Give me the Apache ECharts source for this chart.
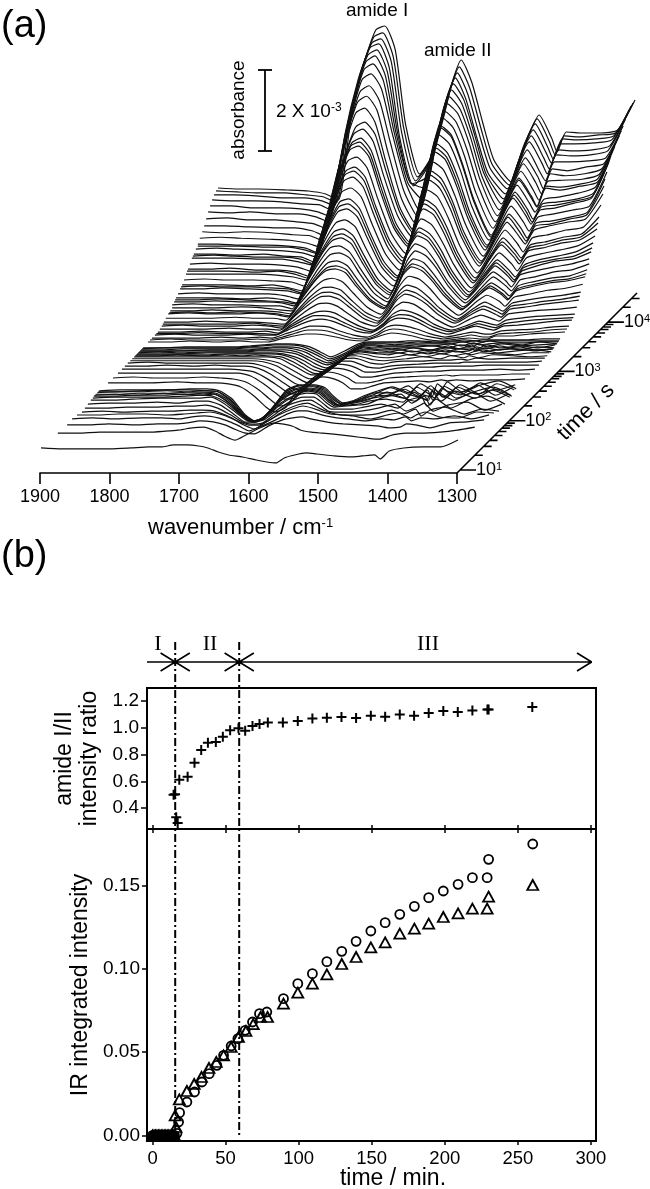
<!DOCTYPE html>
<html>
<head>
<meta charset="utf-8">
<style>html,body{margin:0;padding:0;background:#fff}#chart{width:650px;height:1189px}</style>
<script src="https://cdn.jsdelivr.net/npm/echarts@6/dist/echarts.min.js"></script>
</head>
<body>
<div id="chart"></div>
<script>
// (a) spectra: absorbance in units of 1/40.5 of 1e-3, relative to each trace's own baseline
var wavenumbers = [1900,1870,1840,1800,1770,1745,1727,1709,1690,1673,1660,1645,1630,1610,1590,1575,1562,1550,1535,1519,1503,1478,1454,1438,1420,1412,1399,1378,1350,1325,1300];
var logTimes = [4.55,4.51,4.47,4.43,4.39,4.35,4.31,4.27,4.23,4.18,4.14,4.14,4.10,4.06,4.04,4.02,3.98,3.94,3.92,3.90,3.86,3.82,3.80,3.78,3.74,3.70,3.68,3.66,3.62,3.62,3.58,3.56,3.54,3.49,3.45,3.43,3.41,3.37,3.33,3.30,3.27,3.21,3.17,3.13,
  3.03,3.01,2.99,2.97,2.95,2.93,2.91,2.89,2.87,2.85,2.81,2.77,2.72,2.66,2.60,2.52,2.42,2.32,
  2.14,2.12,2.10,2.07,2.05,2.03,2.01,1.97,1.91,1.85,1.79,1.69,1.59,1.49,1.30,0.96];
var baselines = [107,106,104,101,97,93,88,83,79,75,71,69,68,65,64,63,59,56,55,53,49,46,45,44,41,39,38,37,36,33,32,31,31,29,27,26,25,24,23,23,23,23,23,23,
  22,22,22,22,22,22,22,22,22,22,22,22,22,22,22,22,22,22,
  23,23,23,23,23,23,22,22,21,20,19,21,22,21,22,24];
var spectra = [
  [0,-1,-1,-2,-3,-6,-12,68,125,158,162,138,63,14,35,72,108,128,106,65,28,6,51,73,50,36,56,55,55,58,88],
  [0,-1,-2,-2,-4,-6,-12,66,122,154,158,134,63,14,33,69,104,124,103,63,27,6,50,72,49,36,55,54,56,58,88],
  [0,0,-1,-3,-3,-6,-11,65,120,152,156,133,62,14,33,68,102,122,101,62,27,6,50,71,48,36,56,55,56,59,89],
  [0,-1,-1,-2,-4,-5,-11,65,120,152,156,132,62,14,33,68,103,122,101,62,27,6,49,70,48,37,56,56,57,60,90],
  [0,0,-2,-2,-3,-6,-11,60,116,151,156,134,72,22,28,62,102,122,106,70,32,7,49,70,48,37,56,55,56,60,91],
  [0,-1,0,-2,-2,-5,-10,56,113,150,156,136,80,30,24,58,102,122,108,75,38,8,49,70,49,38,57,56,57,61,92],
  [0,1,-1,-1,-3,-5,-10,52,110,149,155,138,88,36,20,55,101,122,110,80,42,9,48,69,47,38,57,57,58,61,93],
  [0,0,-1,-2,-2,-5,-10,49,106,146,152,137,94,43,15,51,100,122,112,83,46,10,46,68,49,37,57,55,59,62,95],
  [0,-1,0,-1,-3,-4,-9,47,102,140,146,131,91,41,15,50,98,120,110,82,46,10,46,68,49,38,58,56,58,63,96],
  [0,1,0,-1,-2,-5,-9,45,99,136,142,128,88,40,15,50,98,120,110,82,46,10,46,67,48,38,57,58,59,64,98],
  [0,0,-1,-1,-2,-4,-9,44,95,131,136,122,84,38,14,50,97,118,109,80,45,9,45,66,48,38,58,57,60,65,100],
  [0,0,0,-1,-1,-4,-8,40,87,119,124,112,77,35,13,50,97,118,109,80,45,9,45,66,48,39,58,56,60,64,100],
  [0,1,0,-1,-2,-4,-8,38,84,115,120,108,74,34,13,48,93,114,105,78,43,9,44,64,46,37,50,52,56,62,100],
  [0,0,-1,0,-2,-3,-8,37,81,111,116,104,72,32,12,46,90,110,101,75,42,9,42,62,45,35,50,52,55,61,98],
  [0,1,0,-1,-1,-3,-8,36,79,110,114,102,70,31,12,45,88,108,99,73,41,9,41,61,44,34,49,51,55,60,97],
  [0,0,0,-1,-1,-4,-7,36,78,108,112,101,69,31,12,45,87,106,98,72,40,8,41,60,43,34,48,50,55,60,96],
  [0,1,0,0,-1,-3,-7,34,75,103,107,96,66,30,11,43,84,102,94,69,39,8,39,58,42,33,47,50,54,58,92],
  [0,0,1,-1,-1,-3,-7,33,71,98,102,92,63,29,11,41,80,98,90,67,37,8,37,55,40,31,46,48,52,57,90],
  [0,0,0,-1,0,-3,-7,32,70,96,100,90,62,28,10,40,79,96,88,66,36,8,36,54,38,30,45,47,52,56,85],
  [0,0,0,0,-1,-3,-6,31,68,93,97,87,60,27,10,39,77,94,86,64,36,8,35,52,37,30,44,48,52,55,80],
  [0,1,0,0,-1,-2,-6,29,64,88,92,83,57,26,10,38,74,90,83,61,34,7,34,50,36,28,42,45,50,53,75],
  [0,0,0,-1,0,-3,-6,28,60,83,86,77,53,24,9,36,70,85,78,58,32,7,32,47,34,27,40,43,48,51,68],
  [0,1,0,0,-1,-2,-6,27,58,80,83,75,52,23,9,35,68,83,76,56,31,6,31,45,33,26,39,42,47,50,64],
  [0,0,1,0,-1,-2,-5,26,56,77,80,72,50,22,8,34,66,80,74,54,30,6,30,44,32,25,38,41,46,49,60],
  [0,1,0,0,0,-2,-5,24,52,71,74,67,46,21,8,32,62,75,69,51,29,6,28,41,30,23,36,40,44,48,58],
  [0,0,0,-1,0,-2,-5,22,48,66,69,62,43,19,7,29,57,70,64,48,27,6,26,38,27,21,33,38,42,46,55],
  [0,0,1,0,-1,-2,-4,21,46,63,66,60,41,18,7,28,55,68,62,46,26,5,25,37,26,20,32,37,41,44,52],
  [0,0,1,0,0,-1,-4,20,45,61,64,58,40,18,7,28,54,66,61,45,25,5,24,36,26,20,31,36,41,43,50],
  [0,1,0,0,-1,-1,-4,19,41,57,59,53,37,17,6,26,50,61,56,41,23,5,22,33,24,18,30,34,38,41,46],
  [0,0,0,1,0,-2,-3,18,39,53,55,50,34,15,6,24,47,57,52,39,22,5,21,31,22,17,28,31,36,38,44],
  [0,0,1,0,0,-1,-3,16,35,48,50,45,31,14,5,22,43,52,48,35,20,4,19,28,20,15,25,29,33,35,41],
  [0,1,0,1,0,-1,-3,15,33,45,47,43,29,13,5,21,41,49,45,33,19,4,18,27,19,14,24,28,32,34,39],
  [0,1,0,0,1,-1,-3,14,32,43,45,41,28,13,5,20,39,47,43,32,18,4,18,26,19,14,23,27,31,33,37],
  [0,0,0,1,0,0,-2,13,28,38,40,36,25,11,4,18,34,42,39,29,16,3,16,23,17,12,21,24,28,30,34],
  [0,0,1,0,0,-1,-2,11,25,34,35,32,22,10,4,16,30,37,34,25,14,3,14,20,14,11,19,22,25,27,30],
  [0,0,0,0,1,-1,-2,10,23,31,32,29,20,9,3,14,28,34,31,23,13,3,13,18,13,10,18,20,23,25,28],
  [0,1,0,0,1,0,-2,10,21,29,30,27,19,8,3,13,26,32,29,22,12,3,12,17,12,9,17,19,22,24,26],
  [0,0,0,1,0,0,-1,8,18,25,26,23,16,7,3,11,22,27,25,18,10,2,10,14,10,8,15,17,19,20,22],
  [0,0,1,0,0,1,-1,7,15,20,21,19,13,6,2,9,18,22,20,15,8,2,7,11,8,7,12,14,16,17,18],
  [0,0,1,0,0,0,-1,6,13,18,18,16,11,5,2,8,16,19,18,13,7,2,6,10,7,6,10,12,14,15,16],
  [0,1,0,0,1,0,0,5,11,15,16,14,10,4,2,7,14,17,16,12,6,1,6,9,6,5,9,10,12,14,15],
  [0,0,0,1,0,1,0,4,8,12,12,11,7,3,1,5,11,13,12,9,5,1,4,6,4,4,7,8,9,11,12],
  [0,1,0,0,0,1,0,3,7,10,10,9,6,2,1,4,9,11,10,7,4,1,3,5,3,3,6,7,8,10,11],
  [0,0,1,0,1,0,0,3,6,8,8,7,5,2,1,4,7,9,8,6,3,1,3,4,3,3,6,6,8,9,10],
  // 10^3 s group
  [0,0,1,1,1,2,3,4,4,3,1,-4,-9,-3,4,6,6,6,6,7,7,6,7,8,7,8,8,8,8,9,9],
  [0,1,1,1,1,2,3,4,4,3,0,-5,-10,-5,3,6,6,6,6,6,7,6,7,7,8,7,8,8,8,8,8],
  [0,0,1,1,1,2,2,3,3,2,-1,-6,-11,-6,2,6,6,6,5,6,6,6,6,8,6,7,9,7,7,8,8],
  [0,0,0,1,1,1,2,3,3,1,-2,-8,-12,-7,2,6,6,5,5,5,6,5,7,5,8,6,7,8,6,9,7],
  [0,0,1,1,1,1,2,2,2,0,-4,-9,-13,-8,2,6,6,5,5,5,5,6,4,7,5,8,5,8,6,7,8],
  [0,1,0,1,1,1,2,2,1,-1,-5,-11,-15,-9,2,6,5,5,4,5,5,3,7,4,8,4,8,5,7,5,8],
  [0,0,0,1,1,1,1,1,0,-3,-7,-13,-16,-9,2,6,5,4,4,4,6,3,6,5,4,7,5,8,4,7,6],
  [0,0,0,0,1,1,1,1,0,-4,-9,-15,-17,-9,2,5,5,4,3,5,3,5,3,6,7,4,7,5,8,5,6],
  [0,0,1,0,1,0,1,0,-1,-6,-11,-17,-18,-9,2,5,4,3,3,3,5,2,6,4,5,7,4,6,7,5,7],
  [0,0,0,0,0,0,0,0,-2,-8,-13,-18,-18,-8,3,5,4,3,2,4,2,5,3,6,3,5,7,4,6,7,5],
  [0,0,0,0,0,0,0,-1,-4,-10,-15,-20,-18,-7,3,5,4,2,1,2,4,2,5,3,5,4,6,5,4,6,6],
  [0,0,0,0,0,0,0,-1,-5,-12,-17,-22,-18,-6,4,5,3,1,0,1,2,4,2,5,3,5,3,6,5,4,5],
  [0,1,0,0,0,0,0,-2,-7,-14,-20,-23,-17,-5,4,5,3,0,-1,1,2,2,3,3,4,3,5,4,5,5,5],
  [0,0,1,0,1,0,0,-2,-8,-16,-22,-24,-16,-3,5,5,2,-1,-2,0,1,2,3,3,3,4,4,4,4,4,5],
  [0,0,0,0,0,0,-1,-3,-10,-18,-24,-25,-15,-2,5,4,1,-3,-3,-1,1,2,2,3,3,3,3,4,4,4,4],
  [0,0,0,0,0,0,0,-3,-11,-20,-26,-25,-13,0,5,4,1,-4,-4,-2,0,1,2,2,3,3,3,3,4,3,4],
  [0,1,0,0,1,0,-1,-4,-12,-22,-28,-25,-12,1,6,4,0,-5,-5,-3,0,1,2,2,3,2,3,3,3,4,4],
  [0,0,0,1,0,0,-1,-4,-13,-24,-29,-25,-10,2,6,4,0,-6,-6,-3,0,1,2,1,3,2,3,2,3,3,4],
  // earliest, noisy group
  [0,1,1,1,2,2,0,-8,-24,-31,-26,-12,1,6,6,3,-6,-12,-10,-5,-1,4,-2,7,0,-4,9,-1,6,10,2],
  [0,0,1,2,2,1,0,-8,-23,-30,-25,-12,0,6,6,3,-6,-12,-10,-6,-1,-1,6,-2,-5,8,1,-3,9,2,7],
  [0,1,1,2,1,2,1,-7,-22,-29,-25,-13,-1,5,6,3,-6,-11,-10,-6,-2,5,-1,-4,7,2,-5,8,-1,9,3],
  [0,0,1,1,2,2,1,-6,-20,-28,-24,-13,-2,5,6,4,-5,-11,-9,-6,-2,-1,-4,7,0,-4,8,1,9,-1,7],
  [0,1,0,2,1,2,1,-6,-19,-27,-24,-14,-3,4,6,4,-5,-10,-8,-6,-3,0,6,0,-5,7,-2,8,1,6,-1],
  [0,0,1,1,2,1,2,-5,-17,-25,-23,-14,-4,4,6,4,-4,-9,-8,-6,-3,4,-2,-5,6,-4,8,-2,5,9,1],
  [0,1,1,1,2,3,2,-4,-15,-23,-21,-14,-5,3,7,5,-3,-8,-7,-6,-3,-1,-4,6,-2,7,-3,7,0,8,1],
  [0,0,1,2,2,2,3,-3,-13,-21,-20,-15,-6,3,7,6,-2,-7,-6,-5,-4,3,6,-3,4,-5,7,0,8,-1,6],
  [0,1,1,2,1,3,3,-1,-10,-18,-18,-15,-7,2,7,7,1,-5,-5,-5,-3,0,-4,4,7,-2,5,-4,5,8,0],
  [0,0,1,1,2,2,3,0,-7,-14,-16,-15,-8,2,7,8,3,-3,-4,-4,-3,0,4,-3,2,5,-3,3,6,-2,4],
  [0,1,0,1,1,2,2,1,-4,-10,-13,-13,-8,1,7,9,5,1,-2,-3,-3,-2,2,-2,3,-4,2,5,-2,3,1],
  [0,0,1,1,0,1,2,3,0,-5,-10,-14,-8,0,6,9,7,4,1,0,-1,-4,0,2,-3,0,3,-2,-3,3,2],
  [0,1,0,1,1,0,2,3,1,-3,-7,-12,-8,-2,5,8,8,6,3,1,0,-2,0,-1,2,-2,1,0,3,0,4],
  [0,0,1,0,1,1,2,4,3,0,-4,-8,-9,-1,5,7,8,6,4,2,1,0,-1,-3,-2,1,0,-3,2,3,5],
  [0,0,1,1,1,2,3,5,6,2,-3,-7,-2,5,10,9,7,3,1,0,-1,-3,-5,-6,-2,-1,0,0,1,3,6],
  [0,-1,-1,-1,0,1,1,3,3,2,0,-4,-7,-9,-12,-14,-15,-10,-7,-5,-6,-8,-9,-8,-7,-11,-3,0,1,1,8]
];
var wavenumberTicks = [1900,1800,1700,1600,1500,1400,1300];
var timeMajorTicks = [1,2,3,4];
var timeMinorTicks = [1.30,1.48,1.60,1.70,1.78,1.85,1.90,1.95,2.30,2.48,2.60,2.70,2.78,2.85,2.90,2.95,3.30,3.48,3.60,3.70,3.78,3.85,3.90,3.95,4.30,4.48];
var timeAxisRange = [0.94,4.59];

// (b) kinetics, time in minutes
var ratioTimes = [14.4,15.4,16.2,17.2,18.3,24,28.7,33.3,37.9,43.3,48.1,53.1,58.8,63.4,68.4,73.2,78.9,89.2,99.4,109.4,119.3,129.3,139.3,149.4,159.2,169.2,179,189,199,208.9,218.9,229.2,230,259.9];
var ratioValues = [0.50,0.505,0.332,0.29,0.613,0.635,0.74,0.834,0.889,0.894,0.934,0.981,0.996,0.978,1.013,1.028,1.04,1.04,1.05,1.07,1.075,1.08,1.073,1.09,1.083,1.10,1.09,1.11,1.125,1.118,1.13,1.137,1.137,1.155];
var zeroTimes = [0,1,2,3,4,5,6,7,8,9,10,11,12,13,14,15];
var circleTimes = [16.7,17.8,18.5,23.5,28.7,33.8,38.8,44,48.6,53.8,58.4,63.4,68.4,73.2,78.2,89.6,99.4,109.4,119.3,129.5,139.3,149.4,159.2,169.2,179.2,189,199,209.1,218.9,229,230,260.2];
var circleValues = [0.0012,0.008,0.0136,0.020,0.026,0.032,0.037,0.042,0.048,0.0536,0.058,0.063,0.068,0.073,0.074,0.082,0.091,0.097,0.1042,0.1104,0.1164,0.1226,0.1276,0.1326,0.1374,0.1426,0.1466,0.1506,0.1546,0.1546,0.1656,0.1748];
var triangleTimes = [15.5,16,18.3,23.5,28.5,33.5,38.6,43.6,48.6,53.8,58.8,63.9,68.9,73.9,78.7,89.6,99.4,109.4,119.3,129.5,139.3,149.4,159.2,169.2,179.2,189,199,209.1,218.9,229,230,260.2];
var triangleValues = [0.012,0.005,0.0216,0.0266,0.0308,0.035,0.0404,0.044,0.048,0.053,0.059,0.0626,0.0667,0.071,0.071,0.079,0.0856,0.091,0.0966,0.1028,0.107,0.1128,0.1158,0.121,0.124,0.127,0.131,0.1332,0.136,0.136,0.1432,0.1502];
var phaseBounds = [15.5,59.3];
var phaseEnds = [-3.8,300.5];
var timeTicks = [0,50,100,150,200,250,300];
var ratioTicks = [0.4,0.6,0.8,1.0,1.2];
var intensityTicks = [0,0.05,0.10,0.15];

var chart = echarts.init(document.getElementById('chart'), null, { renderer: 'canvas' });

var ink = '#000';
var sans = '"Liberation Sans", Arial, sans-serif';
var serif = '"Liberation Serif", serif';
var pxPerWn = 0.695;
var decadePx = 49.3;

// oblique projection of the time axis onto the page
function project(wn, a, logT) {
  var shift = decadePx * (logT - 1) + 3;
  return [wn - shift / pxPerWn, a + shift];
}

var series = [];
spectra.forEach(function(row, i) {
  series.push({
    type: 'line',
    xAxisIndex: 0,
    yAxisIndex: 0,
    silent: true,
    symbol: 'none',
    smooth: 0.2,
    z: 2,
    lineStyle: { color: '#111', width: 1.2 },
    areaStyle: { color: '#fff', opacity: 1 },
    data: row.map(function(v, j) {
      return project(wavenumbers[j], baselines[i] + v, logTimes[i]);
    })
  });
});

// time axis
var timeAxisData = [project(1300, 0, timeAxisRange[0]), project(1300, 0, timeAxisRange[1]), [NaN, NaN]];
timeMajorTicks.forEach(function(t) {
  var p = project(1300, 0, t);
  timeAxisData.push(p, [p[0] - 16 / pxPerWn, p[1]], [NaN, NaN]);
});
timeMinorTicks.forEach(function(t) {
  var p = project(1300, 0, t);
  timeAxisData.push(p, [p[0] - 8 / pxPerWn, p[1]], [NaN, NaN]);
});
series.push({
  type: 'line',
  xAxisIndex: 0,
  yAxisIndex: 0,
  silent: true,
  symbol: 'none',
  z: 5,
  lineStyle: { color: ink, width: 1.6 },
  data: timeAxisData
});
series.push({
  type: 'scatter',
  xAxisIndex: 0,
  yAxisIndex: 0,
  silent: true,
  symbolSize: 0,
  z: 5,
  itemStyle: { opacity: 1 },
  label: {
    show: true,
    position: 'right',
    distance: 0,
    opacity: 1,
    formatter: function(p) { return '{a|10}{b|' + p.data[2] + '}'; },
    rich: {
      a: { fontSize: 18, fontFamily: sans, color: ink },
      b: { fontSize: 11, fontFamily: sans, color: ink, verticalAlign: 'top', padding: [0, 0, 6, 0] }
    }
  },
  data: timeMajorTicks.map(function(t) {
    var p = project(1300, 0, t);
    return [p[0] - 16 / pxPerWn, p[1], t];
  })
});

// wavenumber axis holder
series.push({ type: 'line', xAxisIndex: 1, yAxisIndex: 1, silent: true, symbol: 'none', lineStyle: { opacity: 0 }, data: [] });

function hollow() {
  return { color: 'rgba(0,0,0,0)', borderColor: ink, borderWidth: 1.8, opacity: 1 };
}

series.push({
  type: 'scatter',
  xAxisIndex: 2,
  yAxisIndex: 2,
  silent: true,
  symbol: 'path://M4,0h2v4h4v2h-4v4h-2v-4h-4v-2h4z',
  symbolSize: 10,
  itemStyle: { color: ink, opacity: 1 },
  data: ratioTimes.map(function(t, i) { return [t, ratioValues[i]]; })
});
series.push({
  type: 'scatter',
  xAxisIndex: 3,
  yAxisIndex: 3,
  silent: true,
  symbol: 'triangle',
  symbolSize: [11, 10],
  itemStyle: hollow(),
  data: zeroTimes.map(function(t) { return [t, 0]; }).concat(triangleTimes.map(function(t, i) { return [t, triangleValues[i]]; }))
});
series.push({
  type: 'scatter',
  xAxisIndex: 3,
  yAxisIndex: 3,
  silent: true,
  symbol: 'circle',
  symbolSize: 9,
  itemStyle: hollow(),
  data: zeroTimes.map(function(t) { return [t, 0]; }).concat(circleTimes.map(function(t, i) { return [t, circleValues[i]]; }))
});

// phase boundaries and arrows, on the overlay grid
var arrowY = 22;
var arrowData = [[phaseEnds[0], arrowY], [phaseEnds[1], arrowY], [NaN, NaN]];
phaseBounds.forEach(function(b) {
  arrowData.push([b - 10, arrowY - 9], [b, arrowY], [b - 10, arrowY + 9], [NaN, NaN]);
  arrowData.push([b + 10, arrowY - 9], [b, arrowY], [b + 10, arrowY + 9], [NaN, NaN]);
});
arrowData.push([phaseEnds[1] - 10, arrowY - 9], [phaseEnds[1], arrowY], [phaseEnds[1] - 10, arrowY + 9]);
series.push({
  type: 'line',
  xAxisIndex: 5,
  yAxisIndex: 4,
  silent: true,
  symbol: 'none',
  lineStyle: { color: ink, width: 1.6 },
  data: arrowData
});
phaseBounds.forEach(function(b) {
  series.push({
    type: 'line',
    xAxisIndex: 5,
    yAxisIndex: 4,
    silent: true,
    symbol: 'none',
    lineStyle: { color: ink, width: 2, type: [8, 3, 2, 3] },
    data: [[b, 2], [b, 495]]
  });
});

function boxAxis(grid, extra) {
  var axis = {
    type: 'value',
    gridIndex: grid,
    min: phaseEnds[0],
    max: 303.5,
    splitLine: { show: false },
    axisLine: { onZero: false, lineStyle: { color: ink, width: 2 } }
  };
  for (var k in extra) axis[k] = extra[k];
  return axis;
}

var option = {
  animation: false,
  backgroundColor: '#fff',
  grid: [
    { left: 40, top: 0, width: 600, height: 473 },
    { left: 40, top: 472, width: 417, height: 1 },
    { left: 147, top: 688, width: 449, height: 141, show: true, borderColor: ink, borderWidth: 2 },
    { left: 147, top: 829, width: 449, height: 312, show: true, borderColor: ink, borderWidth: 2 },
    { left: 147, top: 640, width: 449, height: 500 }
  ],
  xAxis: [
    { type: 'value', gridIndex: 0, inverse: true, min: 1900 - 600 / pxPerWn, max: 1900, show: false },
    {
      type: 'value', gridIndex: 1, inverse: true, min: 1300, max: 1900, interval: 100,
      z: 10,
      splitLine: { show: false },
      axisLine: { onZero: false, lineStyle: { color: ink, width: 1.6 } },
      axisTick: { length: 11, lineStyle: { color: ink, width: 1.6 } },
      axisLabel: { color: ink, fontFamily: sans, fontSize: 18, margin: 15, customValues: wavenumberTicks, formatter: function(v) { return String(v); } }
    },
    boxAxis(2, {
      axisTick: { inside: true, length: 4, customValues: timeTicks, lineStyle: { color: ink, width: 1.5 } },
      axisLabel: { show: false }
    }),
    boxAxis(3, {
      axisTick: { length: 4, customValues: timeTicks, lineStyle: { color: ink, width: 1.5 } },
      axisLabel: { color: ink, fontFamily: sans, fontSize: 18.5, margin: 8, customValues: timeTicks, formatter: function(v) { return String(v); } }
    }),
    boxAxis(3, {
      position: 'top',
      axisTick: { inside: true, length: 4, customValues: timeTicks, lineStyle: { color: ink, width: 1.5 } },
      axisLabel: { show: false }
    }),
    { type: 'value', gridIndex: 4, min: phaseEnds[0], max: 303.5, show: false }
  ],
  yAxis: [
    { type: 'value', gridIndex: 0, min: 0, max: 473, show: false },
    { type: 'value', gridIndex: 1, min: 0, max: 1, show: false },
    {
      type: 'value', gridIndex: 2, min: 0.245, max: 1.297,
      name: 'amide I/II\nintensity ratio',
      nameLocation: 'middle',
      nameGap: 42,
      nameTextStyle: { color: ink, fontFamily: sans, fontSize: 23, lineHeight: 25 },
      splitLine: { show: false },
      axisLine: { onZero: false, lineStyle: { color: ink, width: 2 } },
      axisTick: { length: 6, customValues: ratioTicks, lineStyle: { color: ink, width: 1.5 } },
      axisLabel: { color: ink, fontFamily: sans, fontSize: 19, margin: 8, customValues: ratioTicks, formatter: function(v) { return v.toFixed(1); } }
    },
    {
      type: 'value', gridIndex: 3, min: -0.0034, max: 0.1838,
      name: 'IR integrated intensity',
      nameLocation: 'middle',
      nameGap: 47,
      nameTextStyle: { color: ink, fontFamily: sans, fontSize: 23 },
      splitLine: { show: false },
      axisLine: { onZero: false, lineStyle: { color: ink, width: 2 } },
      axisTick: { length: 5, customValues: intensityTicks, lineStyle: { color: ink, width: 1.5 } },
      axisLabel: { color: ink, fontFamily: sans, fontSize: 19, margin: 7, customValues: intensityTicks, formatter: function(v) { return v.toFixed(2); } }
    },
    { type: 'value', gridIndex: 4, inverse: true, min: 0, max: 500, show: false }
  ],
  series: series,
  graphic: [
    { type: 'text', z: 20, left: 1, top: 8, style: { text: '(a)', font: '38px ' + sans, fill: ink } },
    { type: 'text', z: 20, left: 1, top: 538, style: { text: '(b)', font: '38px ' + sans, fill: ink } },
    { type: 'text', z: 20, left: 346, top: 1, style: { text: 'amide I', font: '19px ' + sans, fill: ink } },
    { type: 'text', z: 20, left: 424, top: 41, style: { text: 'amide II', font: '19px ' + sans, fill: ink } },
    { type: 'text', z: 20, x: 239, y: 110, rotation: Math.PI / 2, style: { text: 'absorbance', font: '19px ' + sans, fill: ink, align: 'center', verticalAlign: 'middle' } },
    { type: 'line', z: 20, shape: { x1: 265, y1: 70, x2: 265, y2: 151 }, style: { stroke: ink, lineWidth: 1.8 } },
    { type: 'line', z: 20, shape: { x1: 258, y1: 70, x2: 272, y2: 70 }, style: { stroke: ink, lineWidth: 1.8 } },
    { type: 'line', z: 20, shape: { x1: 258, y1: 151, x2: 272, y2: 151 }, style: { stroke: ink, lineWidth: 1.8 } },
    { type: 'text', z: 20, left: 276, top: 102, style: {
      text: '{a|2 X 10}{b|-3}',
      rich: { a: { font: '19px ' + sans, fill: ink }, b: { font: '12px ' + sans, fill: ink, verticalAlign: 'top' } }
    } },
    { type: 'text', z: 20, left: 148, top: 517, style: {
      text: '{a|wavenumber / cm}{b|-1}',
      rich: { a: { font: '22px ' + sans, fill: ink }, b: { font: '13px ' + sans, fill: ink, verticalAlign: 'top' } }
    } },
    { type: 'text', z: 20, x: 586, y: 412, rotation: Math.PI / 4, style: { text: 'time / s', font: '22px ' + sans, fill: ink, align: 'center', verticalAlign: 'middle' } },
    { type: 'text', z: 20, x: 393, y: 1179, style: { text: 'time / min.', font: '23px ' + sans, fill: ink, align: 'center', verticalAlign: 'middle' } },
    { type: 'text', z: 20, x: 158, y: 644, style: { text: 'I', font: '22px ' + serif, fill: ink, align: 'center', verticalAlign: 'middle' } },
    { type: 'text', z: 20, x: 210, y: 644, style: { text: 'II', font: '22px ' + serif, fill: ink, align: 'center', verticalAlign: 'middle' } },
    { type: 'text', z: 20, x: 428, y: 644, style: { text: 'III', font: '22px ' + serif, fill: ink, align: 'center', verticalAlign: 'middle' } }
  ]
};

chart.setOption(option);
window.addEventListener('resize', function() { chart.resize(); });
</script>
</body>
</html>
